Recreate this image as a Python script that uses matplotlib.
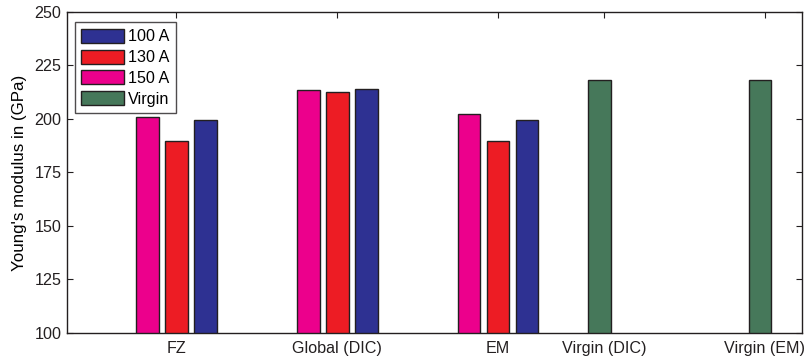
import numpy as np
import matplotlib.pyplot as plt

plt.rcParams['font.family'] = ['Liberation Sans', 'DejaVu Sans']

# categories and measured moduli (GPa)
categories = ['FZ', 'Global (DIC)', 'EM', 'Virgin (DIC)', 'Virgin (EM)']
welded = ['FZ', 'Global (DIC)', 'EM']
e_150 = [200.8, 213.5, 202.2]
e_130 = [189.5, 212.5, 189.5]
e_100 = [199.3, 214.2, 199.4]
virgin = ['Virgin (DIC)', 'Virgin (EM)']
e_virgin = [218.0, 218.0]

c_100 = '#2e3192'
c_130 = '#ed1c24'
c_150 = '#ec008c'
c_virgin = '#46785a'

fig = plt.figure(figsize=(8.06, 3.6), dpi=100)
ax = fig.add_axes([0.0831, 0.075, 0.912, 0.8917])

tick_pos = np.array([1, 2, 3, 3.66, 4.66])
gx = tick_pos[:3]
vx = tick_pos[3:] - 0.03
w = 0.141
step = 0.18
ek = dict(edgecolor='#231f20', linewidth=1.0, width=w, zorder=2)

b150 = ax.bar(gx - step, e_150, color=c_150, **ek)
b130 = ax.bar(gx, e_130, color=c_130, **ek)
b100 = ax.bar(gx + step, e_100, color=c_100, **ek)
bv = ax.bar(vx, e_virgin, color=c_virgin, **ek)

ax.set_xlim(0.319, 4.891)
ax.set_ylim(100, 250)
ax.set_yticks(np.arange(100, 251, 25))
ax.set_xticks(tick_pos)
ax.set_xticklabels(categories)
ax.tick_params(direction='in', length=4, width=0.8, top=True, right=True,
               labelsize=11.6, colors='#231f20', pad=6)
ax.tick_params(axis='y', pad=4)
for s in ax.spines.values():
    s.set_linewidth(1.0)
    s.set_color('#231f20')
ax.set_ylabel("Young's modulus in (GPa)", fontsize=12.2, labelpad=5)

leg = ax.legend([b100, b130, b150, bv], ['100 A', '130 A', '150 A', 'Virgin'],
                loc='upper left', bbox_to_anchor=(0.0109, 0.968), fontsize=11.6,
                frameon=True, fancybox=False, handlelength=2.63, handleheight=0.96,
                handletextpad=0.27, labelspacing=0.33, borderpad=0.4,
                borderaxespad=0)
leg.get_frame().set_edgecolor('#231f20')
leg.get_frame().set_linewidth(1.0)

fig.savefig('out.png', dpi=100)
